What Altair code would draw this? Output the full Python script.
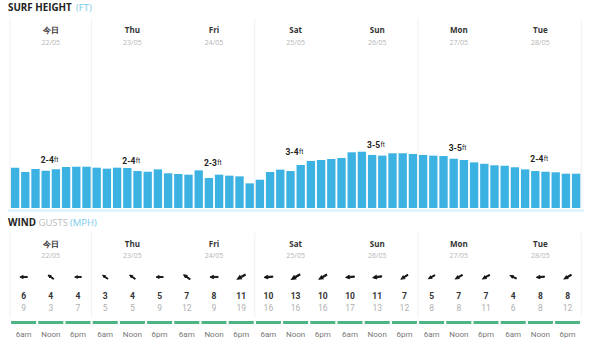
import altair as alt
import pandas as pd

# ---------------- data ----------------
days = ["今日", "Thu", "Fri", "Sat", "Sun", "Mon", "Tue"]
dates = ["22/05", "23/05", "24/05", "25/05", "26/05", "27/05", "28/05"]
surf_ranges = ["2-4", "2-4", "2-3", "3-4", "3-5", "3-5", "2-4"]

# 3-hourly surf height (ft), 8 per day
surf_ft = [
    2.88, 2.57, 2.79, 2.66, 2.76, 2.93, 2.95, 2.95,
    2.88, 2.81, 2.88, 2.86, 2.64, 2.59, 2.76, 2.48,
    2.43, 2.38, 2.69, 2.14, 2.38, 2.31, 2.26, 1.76,
    2.02, 2.57, 2.74, 2.64, 3.07, 3.36, 3.43, 3.50,
    3.57, 3.98, 4.02, 3.79, 3.74, 3.91, 3.91, 3.86,
    3.79, 3.74, 3.71, 3.52, 3.43, 3.26, 3.16, 3.05,
    3.02, 2.91, 2.76, 2.64, 2.59, 2.55, 2.45, 2.45,
]

times = ["6am", "Noon", "6pm"]
wind_speed = [6, 4, 4, 3, 4, 5, 7, 8, 11, 10, 13, 10, 10, 11, 7, 5, 7, 7, 4, 8, 8]
wind_gust = [9, 3, 7, 5, 5, 9, 12, 9, 19, 16, 16, 16, 17, 13, 12, 8, 8, 11, 6, 8, 12]
# direction the arrow points (degrees clockwise from up)
wind_dir = [270, 305, 270, 305, 305, 270, 305, 270, 240, 265, 240, 240,
            265, 262, 238, 240, 240, 240, 295, 265, 240]

divider_days = [0, 1, 3, 5, 7]

# ---------------- tables ----------------
SLOTS_PER_DAY = 8
surf_df = pd.DataFrame({
    "slot": list(range(len(surf_ft))),
    "ft": surf_ft,
})
surf_df["day"] = surf_df["slot"] // SLOTS_PER_DAY
surf_df["x0"] = surf_df["slot"] + 0.09
surf_df["x1"] = surf_df["slot"] + 0.91

day_df = pd.DataFrame({"day": days, "date": dates, "range": surf_ranges})
day_df["mid"] = [SLOTS_PER_DAY * i + SLOTS_PER_DAY / 2 for i in range(len(days))]
day_df["maxft"] = surf_df.groupby("day")["ft"].max().values

col_w = SLOTS_PER_DAY / 3
wind_df = pd.DataFrame({
    "speed": wind_speed,
    "gust": wind_gust,
    "dir": wind_dir,
    "time": [times[i % 3] for i in range(len(wind_speed))],
})
wind_df["mid"] = [(i // 3) * SLOTS_PER_DAY + (i % 3 + 0.5) * col_w for i in range(len(wind_speed))]
wind_df["g0"] = wind_df["mid"] - col_w * 0.46
wind_df["g1"] = wind_df["mid"] + col_w * 0.46

div_df = pd.DataFrame({"pos": [d * SLOTS_PER_DAY for d in divider_days]})

# ---------------- scales ----------------
W, H = 600, 353
X0_PX, SLOT_PX = 10, 10.2
PX_PER_FT, BASE_Y = 14, 208
xscale = alt.Scale(domain=[-X0_PX / SLOT_PX, (W - X0_PX) / SLOT_PX], nice=False, zero=False)
yscale = alt.Scale(domain=[-(H - BASE_Y) / PX_PER_FT, BASE_Y / PX_PER_FT], nice=False, zero=False)

FONT_HEAD = "Open Sans"
FONT = "Roboto"
BLUE = "#3cb2e3"
LIGHTBLUE = "#7dcbee"
GREEN = "#4db583"

base_day = alt.Chart(day_df)
base_wind = alt.Chart(wind_df)

def X(field):
    return alt.X(field, type="quantitative", scale=xscale, axis=None)

# headers
title_df = pd.DataFrame({"t": [0]})
def label(text, x, y, size, color, weight="normal", font=FONT_HEAD):
    return alt.Chart(title_df).mark_text(
        text=text, align="left", baseline="middle", fontSize=size, color=color,
        fontWeight=weight, font=font,
    ).encode(x=alt.value(x), y=alt.value(y))

headers = [
    label("SURF HEIGHT", 8, 8, 9.8, "#222222", "bold"),
    label("(FT)", 76, 8, 9.5, LIGHTBLUE),
    label("WIND", 8, 222.5, 9.8, "#222222", "bold"),
    label("GUSTS", 38.5, 222.5, 9.5, "#bdbdbd"),
    label("(MPH)", 70, 222.5, 9.5, LIGHTBLUE),
]

dividers = [
    alt.Chart(div_df).mark_rule(color="#f0f0f0", strokeWidth=1).encode(
        x=X("pos"), y=alt.value(y0), y2=alt.value(y1))
    for (y0, y1) in [(18, 208), (233, 318)]
]

baseline = alt.Chart(title_df).mark_rule(color="#e4f4fb", strokeWidth=3).encode(
    x=alt.value(8), x2=alt.value(584), y=alt.value(210.5))

day_names = [
    base_day.mark_text(fontSize=8, fontWeight="bold", color="#333333", font=FONT_HEAD).encode(
        x=X("mid"), y=alt.value(yy), text="day:N")
    for yy in (30.5, 245)
]
day_dates = [
    base_day.mark_text(fontSize=7, color="#b5b5b5", font=FONT_HEAD).encode(
        x=X("mid"), y=alt.value(yy), text="date:N")
    for yy in (42.5, 256)
]

bars = alt.Chart(surf_df).mark_rect(color=BLUE).encode(
    x=X("x0"), x2="x1",
    y=alt.Y("ft:Q", scale=yscale, axis=None), y2=alt.datum(0),
)

range_txt = base_day.mark_text(fontSize=8.5, fontWeight="bold", color="#222222", font=FONT,
                               align="right", baseline="middle", dx=3, dy=-7).encode(
    x=X("mid"), y=alt.Y("maxft:Q", scale=yscale, axis=None), text="range:N")
ft_txt = base_day.mark_text(fontSize=6.5, color="#222222", font=FONT,
                            align="left", baseline="middle", dx=3.3, dy=-7).encode(
    x=X("mid"), y=alt.Y("maxft:Q", scale=yscale, axis=None), text=alt.value("ft"))

arrows = base_wind.mark_point(shape="arrow", filled=True, color="#111111", opacity=1,
                              stroke="#111111", strokeWidth=0.9).encode(
    x=X("mid"), y=alt.value(277),
    angle=alt.Angle("dir:Q", scale=None),
    size=alt.Size("speed:Q", scale=alt.Scale(domain=[3, 13], range=[40, 95]), legend=None),
)
speed_txt = base_wind.mark_text(fontSize=8.5, fontWeight="bold", color="#333333", font=FONT).encode(
    x=X("mid"), y=alt.value(296), text="speed:Q")
gust_txt = base_wind.mark_text(fontSize=8.5, color="#b0b0b0", font=FONT).encode(
    x=X("mid"), y=alt.value(307.5), text="gust:Q")
green = base_wind.mark_rule(color=GREEN, strokeWidth=3).encode(
    x=X("g0"), x2="g1", y=alt.value(322.5))
time_txt = base_wind.mark_text(fontSize=8, color="#777777", font=FONT).encode(
    x=X("mid"), y=alt.value(335), text="time:N")

chart = alt.layer(
    *dividers, baseline, bars, range_txt, ft_txt,
    *day_names, *day_dates, *headers,
    arrows, speed_txt, gust_txt, green, time_txt,
).properties(
    width=W, height=H, autosize=alt.AutoSizeParams(type="none"), padding=0,
    background="white",
).configure_view(stroke=None)

chart.save("out.html", embed_options={"renderer": "svg", "actions": False})
